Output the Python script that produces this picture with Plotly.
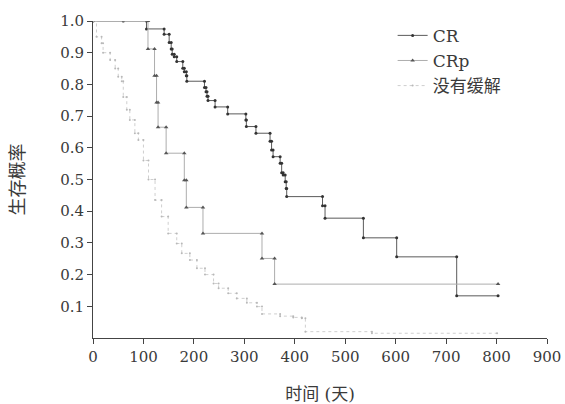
import plotly.graph_objects as go

# ---- data ----
cr_t = [0, 106, 141, 151, 155, 157, 161, 166, 178, 181, 185, 186, 221, 224, 226, 228,
        242, 267, 303, 304, 323, 351, 354, 357, 371, 374, 377, 381, 383, 384, 455, 460,
        536, 602, 721]
cr_s = [1.0, 0.975, 0.958, 0.932, 0.912, 0.895, 0.887, 0.872, 0.851, 0.84, 0.827, 0.81,
        0.79, 0.777, 0.763, 0.749, 0.729, 0.707, 0.688, 0.667, 0.646, 0.621, 0.593, 0.572,
        0.551, 0.521, 0.514, 0.493, 0.472, 0.446, 0.417, 0.378, 0.316, 0.256, 0.133]
cr_end = 803
cr_censor = [60]

crp_t = [0, 109, 122, 126, 129, 145, 181, 185, 218, 335, 360]
crp_s = [1.0, 0.912, 0.827, 0.743, 0.665, 0.583, 0.498, 0.412, 0.33, 0.251, 0.17]
crp_end = 803

nr_t = [0, 7, 17, 20, 34, 44, 50, 57, 60, 67, 73, 83, 90, 100, 110, 123, 136, 149, 166,
        176, 192, 206, 222, 239, 249, 268, 285, 305, 325, 335, 371, 397, 414, 421, 553]
nr_s = [1.0, 0.95, 0.93, 0.90, 0.877, 0.85, 0.824, 0.81, 0.76, 0.72, 0.688, 0.646, 0.625,
        0.56, 0.5, 0.435, 0.383, 0.33, 0.298, 0.267, 0.246, 0.22, 0.2, 0.172, 0.157, 0.141,
        0.125, 0.111, 0.099, 0.076, 0.069, 0.065, 0.062, 0.02, 0.015]
nr_end = 801

names = ["CR", "CRp", "没有缓解"]
x_ticks = [0, 100, 200, 300, 400, 500, 600, 700, 800, 900]
y_ticks = [0.1, 0.2, 0.3, 0.4, 0.5, 0.6, 0.7, 0.8, 0.9, 1.0]


def steps(t, s, end):
    xs, ys = [t[0]], [s[0]]
    for i in range(1, len(t)):
        xs += [t[i], t[i]]
        ys += [s[i - 1], s[i]]
    xs.append(end)
    ys.append(s[-1])
    return xs, ys


FONT = "DejaVu Serif, Noto Sans CJK SC, serif"
TXT = "#3a3a3a"

fig = go.Figure()

x1, y1 = steps(cr_t, cr_s, cr_end)
fig.add_trace(go.Scatter(x=x1, y=y1, mode="lines+markers", name=names[0],
                         line=dict(color="#5a5a5a", width=1),
                         marker=dict(symbol="circle", size=3, color="#333333")))
fig.add_trace(go.Scatter(x=cr_censor, y=[cr_s[0]] * len(cr_censor), mode="markers",
                         showlegend=False,
                         marker=dict(symbol="circle", size=3, color="#333333")))

x2, y2 = steps(crp_t, crp_s, crp_end)
fig.add_trace(go.Scatter(x=x2, y=y2, mode="lines+markers", name=names[1],
                         line=dict(color="#adadad", width=1),
                         marker=dict(symbol="triangle-up", size=4, color="#555555")))

x3, y3 = steps(nr_t, nr_s, nr_end)
fig.add_trace(go.Scatter(x=x3, y=y3, mode="lines+markers", name=names[2],
                         line=dict(color="#cfcfcf", width=1, dash="dot"),
                         marker=dict(symbol="circle", size=2, color="#b8b8b8")))

axis_common = dict(showline=True, linecolor="#444444", linewidth=1, ticks="outside",
                   ticklen=5, tickcolor="#444444", showgrid=False, zeroline=False,
                   automargin=False,
                   tickfont=dict(family=FONT, size=15, color=TXT))

fig.update_xaxes(range=[0, 900], tickvals=x_ticks, **axis_common,
                 title=dict(text="时间 (天)", font=dict(family=FONT, size=17, color=TXT),
                            standoff=24))
fig.update_yaxes(range=[0, 1.0], tickvals=y_ticks, tickformat=".1f", **axis_common,
                 title=dict(text="生存概率", font=dict(family=FONT, size=18, color=TXT),
                            standoff=30))

fig.update_layout(
    width=565, height=404,
    margin=dict(l=93, r=18, t=21, b=66),
    paper_bgcolor="white", plot_bgcolor="white",
    showlegend=True,
    legend=dict(x=0.66, y=1.01, xanchor="left", yanchor="top",
                font=dict(family=FONT, size=17, color=TXT),
                bgcolor="rgba(0,0,0,0)", itemwidth=30, tracegroupgap=0),
)

fig.write_html("out.html", config={"displayModeBar": False},
               post_script="document.body.style.margin='0';"
                           "document.body.style.overflow='hidden';")
